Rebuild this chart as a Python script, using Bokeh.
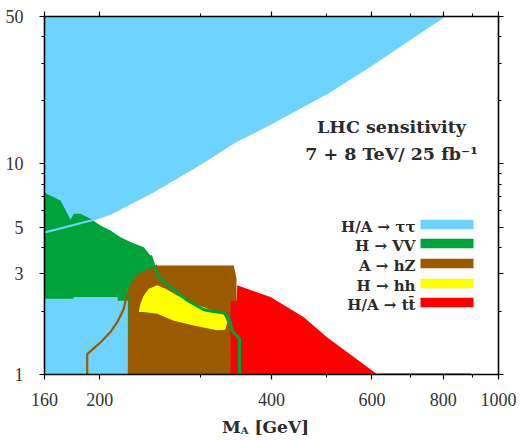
import math
from bokeh.plotting import figure
from bokeh.layouts import column
from bokeh.models import LogAxis, FixedTicker, PrintfTickFormatter, CustomJSTickFormatter, Label, Div
from bokeh.embed import file_html
from bokeh.resources import INLINE

# ---------------- data ----------------
# H/A -> tau tau : lower boundary of excluded region (excluded above)
tau_x = [160, 193, 209, 248, 300, 343, 398, 502, 597, 701, 801]
tau_y = [4.72, 5.38, 5.81, 7.39, 10.0, 12.6, 15.5, 21.8, 29.3, 39.3, 50]
# H/A -> tau tau : low tan(beta) region
taulow_x = [160, 160, 180, 180, 215, 215, 224, 224]
taulow_y = [1, 2.29, 2.29, 2.33, 2.33, 2.24, 2.24, 1]
# H -> VV : upper boundary (fill + line part)
vv_x = [160, 170.7, 175.4, 177.7, 180.1, 185.0, 192.7, 200.6, 208.8, 217.5, 226.4,
        238.9, 245.4, 250.0, 253.8, 266.1, 284.6, 304.4, 312.7, 329.9, 336.9, 342.4,
        351.5, 351.5]
vv_y = [7.29, 6.69, 5.81, 5.42, 5.79, 5.79, 5.48, 5.10, 4.83, 4.48, 4.25,
        4.02, 3.67, 3.17, 2.90, 2.60, 2.25, 2.03, 2.00, 1.96, 1.84, 1.59,
        1.48, 1.0]
vv_line_start = 12
# A -> hZ
hz_x = [224.0, 224.9, 229.4, 235.7, 247.1, 252.2, 343.5, 347.3, 347.3]
hz_y = [1, 2.50, 2.79, 3.01, 3.17, 3.29, 3.29, 2.85, 1]
hz_edge_x = [190.1, 190.1, 200.6, 208.8, 214.6, 220.4, 221.9, 224.9, 229.4, 235.7, 247.1, 252.2]
hz_edge_y = [1.0, 1.25, 1.42, 1.59, 1.77, 2.05, 2.24, 2.50, 2.79, 3.01, 3.17, 3.29]
# H -> hh
hh_x = [234.1, 235.7, 238.9, 243.8, 252.2, 260.8, 273.3, 292.3, 312.7, 329.9, 334.5,
        332.2, 321.2, 292.3, 269.6, 252.2, 238.9]
hh_y = [1.98, 2.17, 2.37, 2.55, 2.65, 2.55, 2.37, 2.17, 2.03, 1.94, 1.77,
        1.63, 1.62, 1.71, 1.80, 1.94, 1.98]
# H/A -> t tbar
tt_x = [339.0, 339.0, 347.3, 348.4, 398.4, 455.8, 500.9, 613.7]
tt_y = [1, 2.24, 2.24, 2.65, 2.33, 1.87, 1.50, 1]
tt_tail_x = [613.7, 893]
tt_tail_y = [1, 1]

x_major = [160, 200, 400, 600, 800, 1000]
x_minor = [300, 500, 700, 900]
y_major = [1, 3, 5, 10, 50]
y_minor = [2, 4, 6, 7, 8, 9, 20, 30, 40]

legend_labels = ["H/A \u2192 \u03c4\u03c4", "H \u2192 VV", "A \u2192 hZ", "H \u2192 hh", "H/A \u2192 tt\u0304"]

BLUE = "#6FD3FF"
GREEN = "#00A33A"
BROWN = "#995A00"
YELLOW = "#FFFF00"
RED = "#FF0000"
legend_colors = [BLUE, GREEN, BROWN, YELLOW, RED]

XMIN, XMAX, YMIN, YMAX = 160, 1000, 1, 50
FW, FH = 454, 358

def fx(px):
    return 10 ** (math.log10(XMIN) + px / FW * math.log10(XMAX / XMIN))

def fy(py):
    return 10 ** (math.log10(YMIN) + py / FH * math.log10(YMAX / YMIN))

p = figure(width=522, height=418, x_axis_type="log", y_axis_type="log",
           x_range=(XMIN, XMAX), y_range=(YMIN, YMAX),
           output_backend="svg", toolbar_location=None,
           min_border_left=44, min_border_right=24, min_border_top=16, min_border_bottom=44)
p.grid.visible = False
p.outline_line_color = None
p.background_fill_color = "white"

# tau tau upper region
p.patch(tau_x + [tau_x[-1], tau_x[0]], tau_y + [YMAX, YMAX], color=BLUE, line_width=0)
# VV
p.patch(vv_x + [vv_x[0]], vv_y + [1.0], color=GREEN, line_width=0)
p.line(tau_x, tau_y, line_color=BLUE, line_width=2.2)
p.patch(taulow_x, taulow_y, color=BLUE, line_width=0)
# hZ
p.patch(hz_x, hz_y, color=BROWN, line_width=0)
p.line(hz_edge_x, hz_edge_y, line_color=BROWN, line_width=2.2)
# hh
p.patch(hh_x, hh_y, color=YELLOW, line_width=0)
# tt
p.patch(tt_x, tt_y, color=RED, line_width=0)
p.line(tt_tail_x, tt_tail_y, line_color="#C00000", line_width=2)
# VV boundary line
p.line(vv_x[vv_line_start:], vv_y[vv_line_start:], line_color=GREEN, line_width=3)

# axes
xt = FixedTicker(ticks=x_major, minor_ticks=x_minor)
yt = FixedTicker(ticks=y_major, minor_ticks=y_minor)

def style(ax):
    ax.axis_line_color = "black"
    ax.axis_line_width = 1.6
    ax.major_tick_line_color = "black"
    ax.minor_tick_line_color = "black"
    ax.major_tick_line_width = 1.2
    ax.minor_tick_line_width = 1.0
    ax.major_tick_out = 5
    ax.major_tick_in = 0
    ax.minor_tick_out = 3
    ax.minor_tick_in = 0

p.xaxis.ticker = xt
p.yaxis.ticker = yt
for ax in (p.xaxis[0], p.yaxis[0]):
    style(ax)
    ax.formatter = PrintfTickFormatter(format="%d")
    ax.major_label_text_font = "Liberation Serif"
    ax.major_label_text_font_size = "18px"
    ax.major_label_text_color = "#333333"
p.xaxis.major_label_standoff = 13
p.yaxis.major_label_standoff = 16

for ax, loc, tk in ((LogAxis(), "above", xt), (LogAxis(), "right", yt)):
    ax.ticker = tk
    style(ax)
    ax.formatter = CustomJSTickFormatter(code="return '';")
    ax.major_label_text_font_size = "8px"
    ax.major_label_standoff = 0
    p.add_layout(ax, loc)

# texts
FONT = "DejaVu Serif"
TXT = "#2b2b2b"
p.add_layout(Label(x=fx(347), y=fy(248), text="LHC sensitivity", text_align="center",
                   text_baseline="alphabetic", text_font=FONT, text_font_style="bold",
                   text_font_size="17.5px", text_color=TXT))
p.add_layout(Label(x=fx(347), y=fy(221), text="7 + 8 TeV/ 25 fb\u207b\u00b9", text_align="center",
                   text_baseline="alphabetic", text_font=FONT, text_font_style="bold",
                   text_font_size="17.5px", text_color=TXT))

# legend (labels left of swatches)
centers = [150, 131, 111, 91, 72]
for lab, col, c in zip(legend_labels, legend_colors, centers):
    p.quad(left=fx(376), right=fx(429), bottom=fy(c - 4.7), top=fy(c + 4.7), color=col, line_width=0)
    p.add_layout(Label(x=fx(371), y=fy(c - 2.5), text=lab, text_align="right",
                       text_baseline="alphabetic", text_font=FONT, text_font_style="bold",
                       text_font_size="15px", text_color=TXT))

# x axis title (M_A [GeV]) in a strip below the chart
xlabel = Div(
    text=("<div style=\"padding-left:222px;font-family:'DejaVu Serif';font-weight:bold;"
          "font-size:17px;line-height:18px;color:#2b2b2b;white-space:nowrap;\">"
          "M<span style=\"font-size:10px;position:relative;top:1px;\">A</span> [GeV]</div>"),
    width=522, height=22, margin=0)

open("out.html", "w").write(file_html(column(p, xlabel, spacing=0), INLINE))
